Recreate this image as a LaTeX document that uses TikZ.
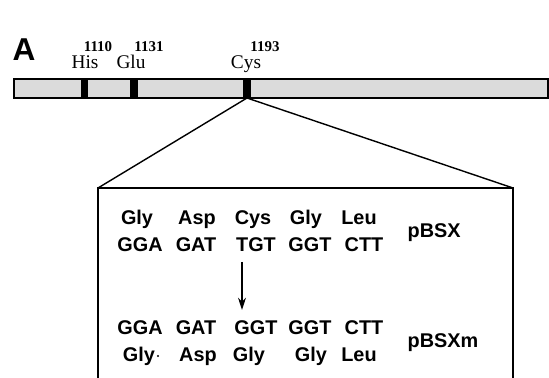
\documentclass[tikz,border=0pt]{standalone}
\usepackage{fontspec}
\setmainfont{Liberation Serif}
\newfontfamily\codonfont{Liberation Sans}
\usepackage{tikz}
\usetikzlibrary{calc, positioning, arrows.meta}

\tikzset{
    seq/.style={anchor=base, inner sep=0pt, font=\codonfont\bfseries\fontsize{11.3}{13}\selectfont},
    resi/.style={anchor=base, inner sep=0pt, font=\fontsize{11}{13}\selectfont},
    resnum/.style={anchor=base, inner sep=0pt, font=\bfseries\fontsize{8.5}{10}\selectfont},
    band/.style={fill=black},
}

\begin{document}
\begin{tikzpicture}[>={Stealth[length=7pt, width=4.5pt]}, x=0.02cm, y=-0.02cm, line width=0.8pt]
    \useasboundingbox (0,0) rectangle (549,378);

    % -------------------------------------------------
    % 1. protein bar with the three residues
    % -------------------------------------------------
    \node[anchor=base west, inner sep=0pt, font=\codonfont\bfseries\fontsize{18}{20}\selectfont] (panel) at (12,61) {A};

    \fill[gray!28] (14,79) rectangle (548,98);
    \draw (14,79) rectangle (548,98);
    \fill[band] (81,79) rectangle (88,98);
    \fill[band] (130,79) rectangle (138,98);
    \fill[band] (243,79) rectangle (251,98);

    \node[resi] (his) at (85,69) {His};
    \node[resnum] (hisnum) at (98,52) {1110};
    \node[resi] (glu) at (131,69) {Glu};
    \node[resnum] (glunum) at (149,52) {1131};
    \node[resi] (cys) at (246,69) {Cys};
    \node[resnum] (cysnum) at (265,52) {1193};

    % -------------------------------------------------
    % 2. enlarged box
    % -------------------------------------------------
    \coordinate (Cys) at (247,98);
    \coordinate (TL) at (98,188);
    \coordinate (TR) at (513,188);
    \coordinate (BL) at (98,378);
    \coordinate (BR) at (513,378);

    \draw (Cys) -- (TL);
    \draw (Cys) -- (TR);
    \draw (BL) -- (TL) -- (TR) -- (BR);

    % -------------------------------------------------
    % 3. sequences
    % -------------------------------------------------
    \node[seq] (a1) at (137,225) {Gly};
    \node[seq] (a2) at (197,225) {Asp};
    \node[seq] (a3) at (253,225) {Cys};
    \node[seq] (a4) at (306,225) {Gly};
    \node[seq] (a5) at (359,225) {Leu};

    \node[seq] (c1) at (140,252) {GGA};
    \node[seq] (c2) at (196,252) {GAT};
    \node[seq] (c3) at (256,252) {TGT};
    \node[seq] (c4) at (310,252) {GGT};
    \node[seq] (c5) at (364,252) {CTT};

    \node[seq, anchor=base west] (wt) at (407,238) {pBSX};

    \node[seq] (m1) at (140,335) {GGA};
    \node[seq] (m2) at (196,335) {GAT};
    \node[seq] (m3) at (256,335) {GGT};
    \node[seq] (m4) at (310,335) {GGT};
    \node[seq] (m5) at (364,335) {CTT};

    \node[seq] (b1) at (139,362) {Gly};
    \node[inner sep=0pt, fill=black, circle, minimum size=1.3pt] (dot) at (158,356) {};
    \node[seq] (b2) at (198,362) {Asp};
    \node[seq] (b3) at (249,362) {Gly};
    \node[seq] (b4) at (311,362) {Gly};
    \node[seq] (b5) at (359,362) {Leu};

    \node[seq, anchor=base west] (mut) at (407,348) {pBSXm};

    % mutation arrow
    \coordinate (arrtop) at (242,262);
    \coordinate (arrbot) at (242,310);
    \draw[->, line width=0.9pt] (arrtop) -- (arrbot);

\end{tikzpicture}
\end{document}
